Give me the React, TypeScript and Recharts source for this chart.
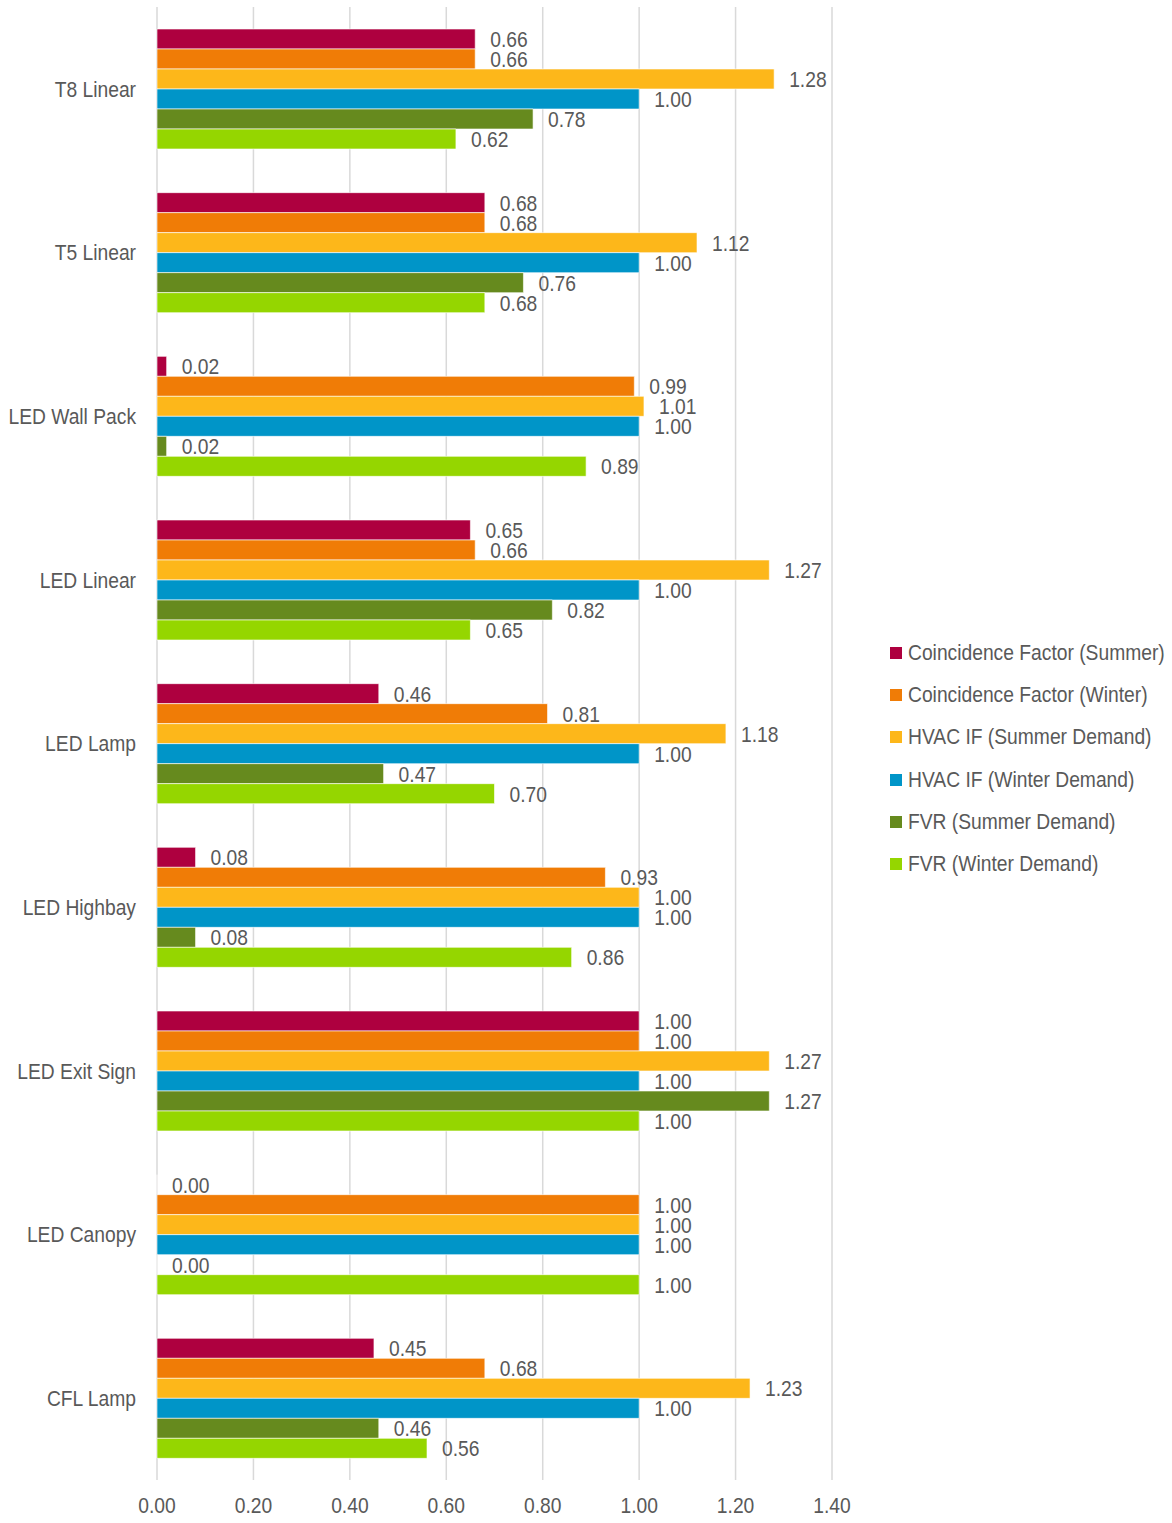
import React from "react";
import { BarChart, Bar, XAxis, YAxis, CartesianGrid, LabelList } from "recharts";

const categories = ["T8 Linear", "T5 Linear", "LED Wall Pack", "LED Linear", "LED Lamp", "LED Highbay", "LED Exit Sign", "LED Canopy", "CFL Lamp"];
const cfSummer = [0.66, 0.68, 0.02, 0.65, 0.46, 0.08, 1.0, 0.0, 0.45];
const cfWinter = [0.66, 0.68, 0.99, 0.66, 0.81, 0.93, 1.0, 1.0, 0.68];
const hvacSummer = [1.28, 1.12, 1.01, 1.27, 1.18, 1.0, 1.27, 1.0, 1.23];
const hvacWinter = [1.0, 1.0, 1.0, 1.0, 1.0, 1.0, 1.0, 1.0, 1.0];
const fvrSummer = [0.78, 0.76, 0.02, 0.82, 0.47, 0.08, 1.27, 0.0, 0.46];
const fvrWinter = [0.62, 0.68, 0.89, 0.65, 0.7, 0.86, 1.0, 1.0, 0.56];
const xTicks = [0, 0.2, 0.4, 0.6, 0.8, 1.0, 1.2, 1.4];

const seriesNames = [
  "Coincidence Factor (Summer)",
  "Coincidence Factor (Winter)",
  "HVAC IF (Summer Demand)",
  "HVAC IF (Winter Demand)",
  "FVR (Summer Demand)",
  "FVR (Winter Demand)",
];
const seriesKeys = ["cfS", "cfW", "hvS", "hvW", "fvS", "fvW"];
const seriesColors = ["#AE003F", "#F07C06", "#FDB71A", "#0095C8", "#668A1E", "#95D600"];

const data = categories.map((c, i) => ({
  name: c,
  cfS: cfSummer[i],
  cfW: cfWinter[i],
  hvS: hvacSummer[i],
  hvW: hvacWinter[i],
  fvS: fvrSummer[i],
  fvW: fvrWinter[i],
}));

const FONT = "'Liberation Sans', Arial, sans-serif";
const TEXT = "#595959";
const FS = 22;
const SX = 0.875;

const NarrowText = ({ x, y, anchor, dy, children }: any) => (
  <g transform={`translate(${x},${y}) scale(${SX},1)`}>
    <text x={0} y={0} dy={dy} textAnchor={anchor} fill={TEXT} fontSize={FS} fontFamily={FONT}>
      {children}
    </text>
  </g>
);

const YTick = (props: any) => {
  const { x, y, payload } = props;
  return <NarrowText x={x} y={y} anchor="end" dy="0.36em">{payload.value}</NarrowText>;
};

const XTick = (props: any) => {
  const { x, y, payload } = props;
  return <NarrowText x={x} y={y} anchor="middle" dy="0.71em">{Number(payload.value).toFixed(2)}</NarrowText>;
};

const ValueLabel = (props: any) => {
  const { x, y, width, height, value } = props;
  if (value === undefined || value === null) return null;
  const xx = Number(x) + Math.max(0, Number(width || 0)) + 15;
  const yy = Number(y) + Number(height || 0) / 2;
  return <NarrowText x={xx} y={yy} anchor="start" dy="0.36em">{Number(value).toFixed(2)}</NarrowText>;
};

const LegendBox = () => (
  <div style={{ position: "absolute", left: 890, top: 632, width: 282, fontFamily: FONT, fontSize: FS, color: TEXT }}>
    {seriesNames.map((n, i) => (
      <div key={n} style={{ display: "flex", alignItems: "center", height: 42.2, whiteSpace: "nowrap" }}>
        <span style={{ width: 12, height: 12, background: seriesColors[i], marginRight: 6, display: "inline-block", flex: "0 0 auto" }} />
        <span style={{ display: "inline-block", transform: `scaleX(${SX})`, transformOrigin: "left center" }}>{n}</span>
      </div>
    ))}
  </div>
);

export default function App() {
  return (
    <div style={{ position: "absolute", left: 0, top: 0, width: 1172, height: 1523, background: "#fff" }}>
      <BarChart
        width={1172}
        height={1523}
        data={data}
        layout="vertical"
        margin={{ top: 7, right: 340, bottom: 13, left: 0 }}
        barGap={0}
        barSize={20}
      >
        <CartesianGrid horizontal={false} stroke="#d9d9d9" strokeWidth={1.5} />
        <XAxis
          type="number"
          domain={[0, 1.4]}
          ticks={xTicks}
          height={30}
          axisLine={false}
          tickLine={false}
          tickSize={6}
          tickMargin={11}
          tick={<XTick />}
        />
        <YAxis
          type="category"
          dataKey="name"
          width={157}
          axisLine={false}
          tickLine={false}
          tickSize={6}
          tickMargin={15}
          tick={<YTick />}
        />
        {seriesKeys.map((k, i) => (
          <Bar
            key={k}
            dataKey={k}
            name={seriesNames[i]}
            fill={seriesColors[i]}
            stroke="#ffffff"
            strokeOpacity={0.6}
            strokeWidth={1}
            minPointSize={0.01}
            isAnimationActive={false}
          >
            <LabelList dataKey={k} content={<ValueLabel />} />
          </Bar>
        ))}
      </BarChart>
      <LegendBox />
    </div>
  );
}
